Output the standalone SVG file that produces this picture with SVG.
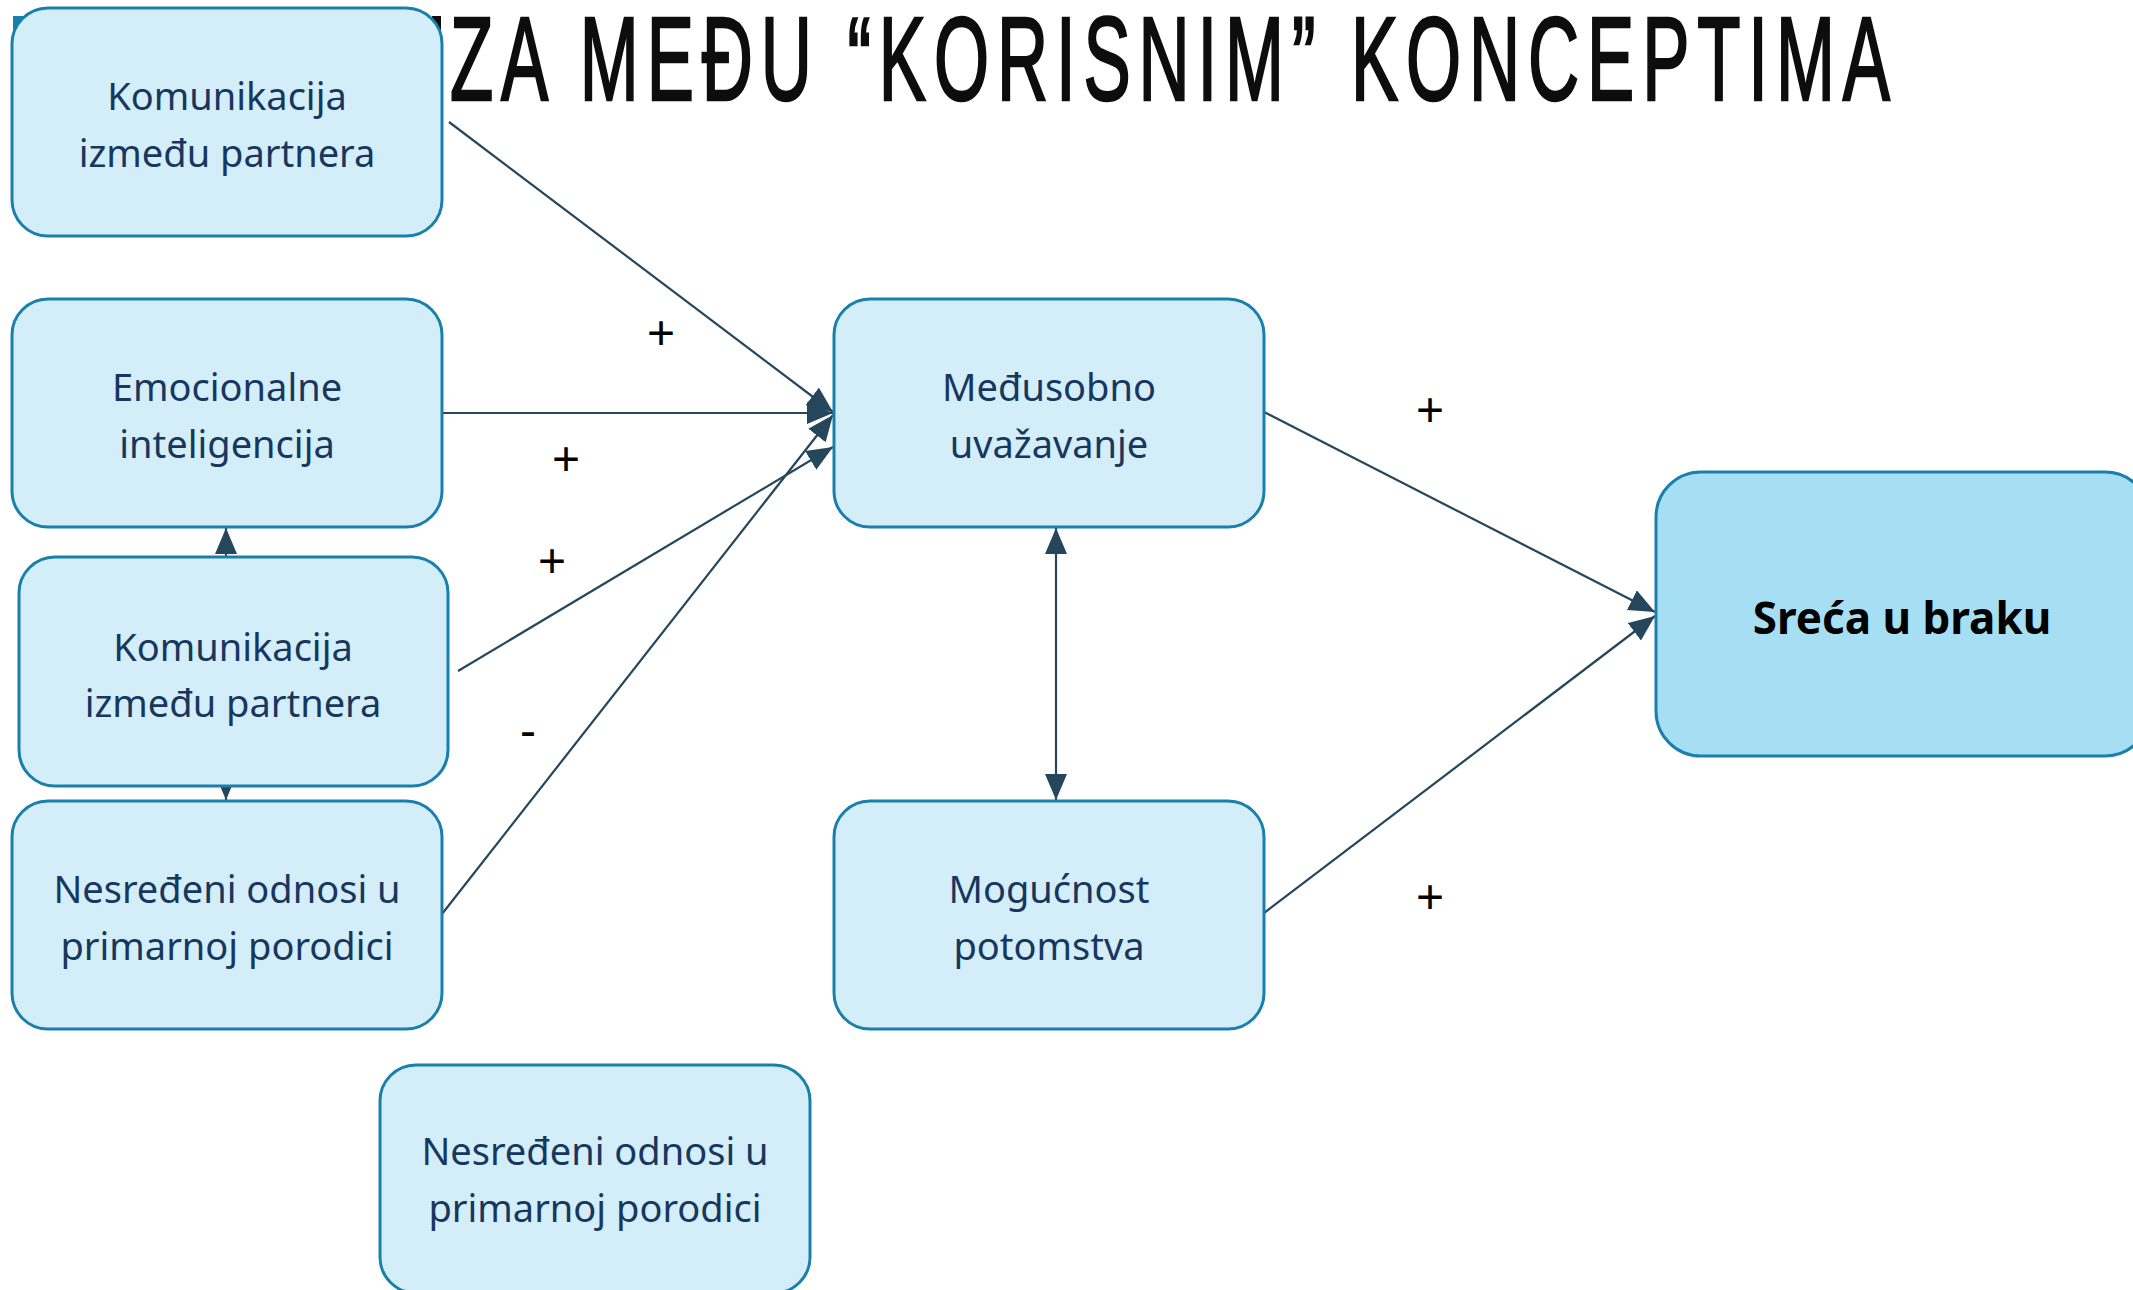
<svg xmlns="http://www.w3.org/2000/svg" width="2133" height="1290" viewBox="0 0 2133 1290">
<defs>
<style>
.node rect{fill:#d4eef9;stroke:#1a80ab;stroke-width:3}
.node text{font-family:"Noto Sans","Open Sans",sans-serif;font-size:38px;fill:#17375e;text-anchor:middle}
#n_sreca rect{fill:#a6dff3}
#n_sreca text{font-weight:bold;fill:#000;font-size:44px}
.conn line{stroke:#26465c;stroke-width:2.2;fill:none}
.lbl{font-family:"Liberation Sans",Arial,sans-serif;font-size:48px;fill:#000;text-anchor:middle}
.title{font-family:"Liberation Sans",Arial,sans-serif;font-size:118px;fill:#0d0d0d;stroke:#0d0d0d;stroke-width:2.5}
</style>
<marker id="arr" viewBox="0 0 26 22" refX="26" refY="11" markerWidth="26" markerHeight="22" markerUnits="userSpaceOnUse" orient="auto-start-reverse">
<path d="M0,0 L26,11 L0,22 Z" fill="#26465c"/>
</marker>
</defs>
<rect width="2133" height="1290" fill="#ffffff"/>
<g id="title">
<rect x="13" y="16" width="20" height="30" fill="#1a80ab"/>
<rect x="432" y="16" width="9" height="14" fill="#0d0d0d"/>
<text class="title" transform="translate(450,100) scale(0.6,1)" x="0" y="0" textLength="2400" lengthAdjust="spacing">ZA MEĐU “KORISNIM” KONCEPTIMA</text>
</g>
<g id="connectors" class="conn">
<line x1="449" y1="122" x2="833" y2="412" marker-end="url(#arr)"/>
<line x1="442" y1="413" x2="833" y2="413" marker-end="url(#arr)"/>
<line x1="458" y1="671" x2="833" y2="447" marker-end="url(#arr)"/>
<line x1="442" y1="914" x2="833" y2="415" marker-end="url(#arr)"/>
<line x1="1264" y1="412" x2="1655" y2="612" marker-end="url(#arr)"/>
<line x1="1264" y1="913" x2="1655" y2="616" marker-end="url(#arr)"/>
<line x1="1056" y1="528" x2="1056" y2="800" marker-start="url(#arr)" marker-end="url(#arr)"/>
<line x1="226" y1="528" x2="226" y2="800" marker-start="url(#arr)" marker-end="url(#arr)"/>
</g>
<g id="n_kom1" class="node">
<rect x="12" y="8" width="430" height="228" rx="36" ry="36"/>
<text x="227" y="110">Komunikacija</text>
<text x="227" y="167">između partnera</text>
</g>
<g id="n_emo" class="node">
<rect x="12" y="299" width="430" height="228" rx="36" ry="36"/>
<text x="227" y="401">Emocionalne</text>
<text x="227" y="458">inteligencija</text>
</g>
<g id="n_kom2" class="node">
<rect x="19" y="557" width="429" height="229" rx="36" ry="36"/>
<text x="233" y="661">Komunikacija</text>
<text x="233" y="717">između partnera</text>
</g>
<g id="n_nes1" class="node">
<rect x="12" y="801" width="430" height="228" rx="36" ry="36"/>
<text x="227" y="903">Nesređeni odnosi u</text>
<text x="227" y="960">primarnoj porodici</text>
</g>
<g id="n_nes2" class="node">
<rect x="380" y="1065" width="430" height="228" rx="36" ry="36"/>
<text x="595" y="1165">Nesređeni odnosi u</text>
<text x="595" y="1222">primarnoj porodici</text>
</g>
<g id="n_med" class="node">
<rect x="834" y="299" width="430" height="228" rx="36" ry="36"/>
<text x="1049" y="401">Međusobno</text>
<text x="1049" y="458">uvažavanje</text>
</g>
<g id="n_mog" class="node">
<rect x="834" y="801" width="430" height="228" rx="36" ry="36"/>
<text x="1049" y="903">Mogućnost</text>
<text x="1049" y="960">potomstva</text>
</g>
<g id="n_sreca" class="node">
<rect x="1656" y="472" width="494" height="284" rx="45" ry="45"/>
<text x="1902" y="634">Sreća u braku</text>
</g>
<g id="labels">
<text class="lbl" x="661" y="349">+</text>
<text class="lbl" x="566" y="475">+</text>
<text class="lbl" x="552" y="577">+</text>
<text class="lbl" x="528" y="747">-</text>
<text class="lbl" x="1430" y="426">+</text>
<text class="lbl" x="1430" y="913">+</text>
</g>
</svg>
